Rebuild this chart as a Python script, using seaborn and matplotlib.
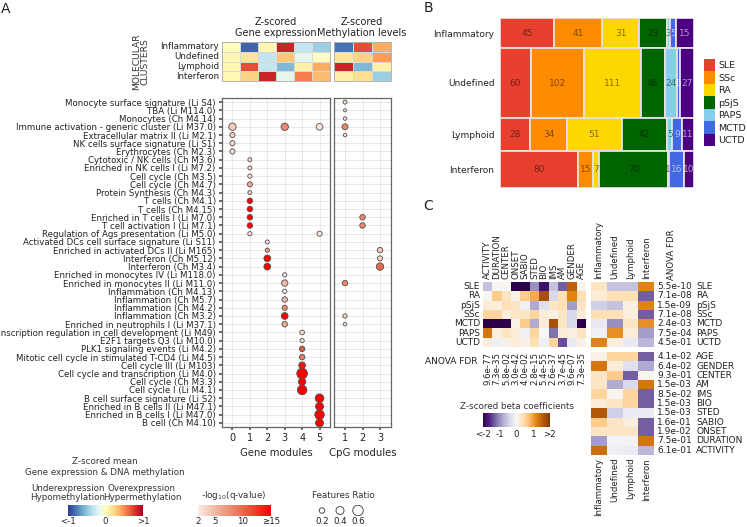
import numpy as np
import pandas as pd
import matplotlib
matplotlib.use("Agg")
import matplotlib.pyplot as plt
import seaborn as sns
from matplotlib.colors import LinearSegmentedColormap, Normalize
from matplotlib.cm import ScalarMappable
from matplotlib.patches import Patch

W, H = 747, 527

# ---------------- DATA : panel A ----------------
clusters = ["Inflammatory", "Undefined", "Lymphoid", "Interferon"]
gene_modules = [0, 1, 2, 3, 4, 5]
cpg_modules = [1, 2, 3]
gene_z = [[0.0, -0.85, 0.05, 0.85, -0.3, -0.45],
          [0.05, 0.15, -0.3, 0.3, -0.15, 0.0],
          [0.05, 0.7, -0.3, -0.55, 0.1, 0.4],
          [0.05, 0.25, 0.85, -0.15, 0.55, 0.35]]
meth_z = [[-0.8, 0.7, 0.4],
          [0.15, 0.25, 0.45],
          [0.85, -0.55, 0.1],
          [0.1, 0.2, -0.45]]

pathways = [
    "Monocyte surface signature (Li S4)", "TBA (Li M114.0)", "Monocytes (Ch M4.14)",
    "Immune activation - generic cluster (Li M37.0)", "Extracellular matrix II (Li M2.1)",
    "NK cells surface signature (Li S1)", "Erythrocytes (Ch M2.3)", "Cytotoxic / NK cells (Ch M3.6)",
    "Enriched in NK cells I (Li M7.2)", "Cell cycle (Ch M3.5)", "Cell cycle (Ch M4.7)",
    "Protein Synthesis (Ch M4.3)", "T cells (Ch M4.1)", "T cells (Ch M4.15)",
    "Enriched in T cells I (Li M7.0)", "T cell activation I (Li M7.1)",
    "Regulation of Ags presentation (Li M5.0)", "Activated DCs cell surface signature (Li S11)",
    "Enriched in activated DCs II (Li M165)", "Interferon (Ch M5.12)", "Interferon (Ch M3.4)",
    "Enriched in monocytes IV (Li M118.0)", "Enriched in monocytes II (Li M11.0)",
    "Inflammation (Ch M4.13)", "Inflammation (Ch M5.7)", "Inflammation (Ch M4.2)",
    "Inflammation (Ch M3.2)", "Enriched in neutrophils I (Li M37.1)",
    "Transcription regulation in cell development (Li M49)", "E2F1 targets Q3 (Li M10.0)",
    "PLK1 signaling events (Li M4.2)", "Mitotic cell cycle in stimulated T-CD4 (Li M4.5)",
    "Cell cycle III (Li M103)", "Cell cycle and transcription (Li M4.0)", "Cell cycle (Ch M3.3)",
    "Cell cycle I (Li M4.1)", "B cell surface signature (Li S2)", "Enriched in B cells II (Li M47.1)",
    "Enriched in B cells I (Li M47.0)", "B cell (Ch M4.10)"]

gene_dot_row = [3, 3, 3, 4, 5, 6, 7, 8, 9, 10, 11, 12, 13, 14, 15, 16, 16,
                17, 18, 19, 20, 21, 22, 23, 24, 25, 26, 27,
                28, 29, 30, 31, 32, 33, 34, 35, 36, 37, 38, 39]
gene_dot_mod = [0, 3, 5, 0, 0, 0, 1, 1, 1, 1, 1, 1, 1, 1, 1, 1, 5,
                2, 2, 2, 2, 3, 3, 3, 3, 3, 3, 3,
                4, 4, 4, 4, 4, 4, 4, 4, 5, 5, 5, 5]
gene_dot_ratio = [0.35, 0.35, 0.30, 0.17, 0.17, 0.17, 0.08, 0.08, 0.10, 0.17, 0.08, 0.20, 0.20, 0.20, 0.20, 0.10, 0.17,
                  0.08, 0.10, 0.30, 0.30, 0.10, 0.27, 0.10, 0.20, 0.17, 0.30, 0.20,
                  0.13, 0.10, 0.20, 0.20, 0.30, 0.62, 0.35, 0.52, 0.45, 0.40, 0.52, 0.40]
gene_dot_logq = [4, 8, 2.5, 3.5, 3, 3, 3, 3, 2.5, 6, 4, 15, 15, 15, 15, 2.5, 2.5,
                 2.5, 7, 15, 15, 2.2, 5, 2.2, 5, 8, 15, 6,
                 3, 3, 11, 9, 14, 15, 15, 15, 15, 15, 15, 15]

cpg_dot_row = [0, 1, 2, 3, 4, 14, 15, 18, 19, 20, 22, 26, 27]
cpg_dot_mod = [1, 1, 1, 1, 1, 2, 2, 3, 3, 3, 1, 1, 1]
cpg_dot_ratio = [0.08, 0.0, 0.04, 0.24, 0.04, 0.2, 0.2, 0.2, 0.17, 0.35, 0.2, 0.1, 0.04]
cpg_dot_logq = [3, 2, 3, 8, 2.5, 8, 8, 4, 3.5, 10, 8, 3.5, 2.5]

ratio_legend = [0.2, 0.4, 0.6]

# ---------------- DATA : panel B ----------------
b_clusters = ["Inflammatory", "Undefined", "Lymphoid", "Interferon"]
diseases = ["SLE", "SSc", "RA", "pSjS", "PAPS", "MCTD", "UCTD"]
disease_colors = ["#e8402f", "#ff8c00", "#ffd700", "#006400", "#87ceeb", "#4169e1", "#4b0082"]
counts_inflammatory = [45, 41, 31, 23, 3, 5, 15]
counts_undefined = [60, 102, 111, 46, 24, 6, 27]
counts_lymphoid = [28, 34, 51, 42, 5, 9, 11]
counts_interferon = [80, 15, 7, 70, 1, 16, 10]

# ---------------- DATA : panel C ----------------
clin_vars = ["ACTIVITY", "DURATION", "CENTER", "ONSET", "SABIO", "STED", "BIO", "IMS", "AM", "GENDER", "AGE"]
c_diseases = ["SLE", "RA", "pSjS", "SSc", "MCTD", "PAPS", "UCTD"]
clin_beta = [[-0.6, 0.05, 0.0, -2.0, -2.0, -1.0, -1.8, -0.6, -1.3, 1.5, 0.05],
             [0.05, 0.6, 0.3, 0.1, 0.6, 0.9, 1.7, -0.4, 0.4, 1.2, 0.4],
             [0.2, 0.15, 0.4, 0.3, -0.1, -0.8, -0.3, 0.3, 0.4, -0.9, 0.3],
             [0.5, 0.5, 0.15, 0.3, 0.3, 0.5, 0.2, 0.1, 0.3, -0.4, 0.2],
             [-2.0, -2.0, -2.0, 0.1, 0.6, -0.8, 0.2, 1.7, 0.3, -0.4, -2.0],
             [1.3, 0.15, 0.3, 0.2, -0.1, 0.5, 0.0, -1.2, 0.2, 0.15, 0.3],
             [0.15, -0.1, 0.1, 0.2, 0.1, 0.4, -0.1, 0.5, -1.4, -0.2, 0.1]]
clin_fdr = ["9.6e-77", "7.3e-35", "5.8e-02", "3.0e-42", "4.0e-02", "2.8e-15", "5.4e-55",
            "2.6e-37", "3.7e-45", "9.6e-07", "7.3e-35"]
disease_cluster_beta = [[0.3, -0.6, -0.6, 1.2],
                        [0.2, 0.4, 0.4, -1.3],
                        [-0.5, -0.6, 0.15, 1.2],
                        [0.4, 0.4, 0.15, -1.3],
                        [-0.2, -1.0, 0.3, 1.1],
                        [-0.1, 1.1, 0.2, -0.9],
                        [1.2, 0.15, -0.2, -0.7]]
disease_fdr = ["5.5e-10", "7.1e-08", "1.5e-09", "7.1e-08", "2.4e-03", "7.5e-04", "4.5e-01"]
var_rows = ["AGE", "GENDER", "CENTER", "AM", "IMS", "BIO", "STED", "SABIO", "ONSET", "DURATION", "ACTIVITY"]
var_cluster_beta = [[0.1, 0.5, 0.5, -1.3],
                    [1.3, 0.2, -0.3, -0.8],
                    [0.3, 0.6, -1.3, 0.05],
                    [0.3, -0.8, -0.4, 1.3],
                    [0.5, 0.05, 0.5, -1.3],
                    [0.2, 0.3, 0.5, -1.3],
                    [1.6, -0.5, -0.15, -0.15],
                    [0.6, 0.3, 0.15, -1.3],
                    [0.3, 0.3, 0.3, -1.3],
                    [-0.9, -0.05, -0.05, 1.3],
                    [1.4, -0.1, -0.15, -0.7]]
var_fdr = ["4.1e-02", "6.4e-02", "9.3e-01", "1.5e-03", "8.5e-02", "1.5e-03", "1.5e-03",
           "1.6e-01", "1.9e-02", "7.5e-01", "6.1e-01"]

# ---------------- STYLE ----------------
sns.set_theme(style="whitegrid")
plt.rcParams["font.family"] = ["DejaVu Sans"]
plt.rcParams["text.color"] = "#222222"
plt.rcParams["xtick.color"] = "#222222"
plt.rcParams["ytick.color"] = "#222222"

fig = plt.figure(figsize=(W / 100, H / 100), dpi=100)


def px_axes(x0, y0, x1, y1):
    return fig.add_axes([x0 / W, 1 - y1 / H, (x1 - x0) / W, (y1 - y0) / H])


def ratio_to_s(r):
    d_px = 3.0 + 12.5 * np.asarray(r, dtype=float)
    return (d_px * 0.72) ** 2


q_cmap = LinearSegmentedColormap.from_list("q", ["#fcebe5", "#efa288", "#e5603f", "#ff0000"])
q_norm = Normalize(2, 15)
edge = "#505050"

# ---------------- PANEL A : top heatmaps ----------------
ax_hg = px_axes(222, 42, 330, 81)
sns.heatmap(pd.DataFrame(gene_z, index=clusters, columns=gene_modules), cmap="RdYlBu_r", vmin=-1, vmax=1,
            cbar=False, ax=ax_hg, linewidths=0.4, linecolor="#d8d8d8", xticklabels=False, yticklabels=True)
ax_hg.set_xlabel("")
ax_hg.tick_params(axis="y", length=0, pad=2, labelsize=6.3)
plt.setp(ax_hg.get_yticklabels(), rotation=0)
ax_hm = px_axes(334, 42, 391, 81)
sns.heatmap(pd.DataFrame(meth_z, index=clusters, columns=cpg_modules), cmap="RdYlBu_r", vmin=-1, vmax=1,
            cbar=False, ax=ax_hm, linewidths=0.4, linecolor="#d8d8d8", xticklabels=False, yticklabels=False)
for a in (ax_hg, ax_hm):
    for s in a.spines.values():
        s.set_visible(True)
        s.set_color("#aaaaaa")
        s.set_linewidth(0.6)

fig.text(276 / W, 1 - 27.5 / H, "Z-scored\nGene expression", ha="center", va="center", fontsize=7, linespacing=1.15)
fig.text(362 / W, 1 - 27.5 / H, "Z-scored\nMethylation levels", ha="center", va="center", fontsize=7, linespacing=1.15)
fig.text(141 / W, 1 - 62 / H, "MOLECULAR\nCLUSTERS", ha="center", va="center", rotation=90, fontsize=6.6,
         linespacing=1.0, color="#333333")
fig.text(1 / W, 1 - 9 / H, "A", ha="left", va="center", fontsize=10)

# ---------------- PANEL A : dot plots ----------------
ax_g = px_axes(222, 98, 330, 427)
ax_c = px_axes(334, 98, 391, 427)
sns.scatterplot(x=gene_dot_mod, y=gene_dot_row, hue=gene_dot_logq, palette=q_cmap, hue_norm=(2, 15),
                s=ratio_to_s(gene_dot_ratio), edgecolor=edge, linewidth=0.6, legend=False, ax=ax_g, zorder=3)
sns.scatterplot(x=cpg_dot_mod, y=cpg_dot_row, hue=cpg_dot_logq, palette=q_cmap, hue_norm=(2, 15),
                s=ratio_to_s(cpg_dot_ratio), edgecolor=edge, linewidth=0.6, legend=False, ax=ax_c, zorder=3)
ax_g.set_xlim(-0.6, 5.6)
ax_c.set_xlim(0.37, 3.63)
for a in (ax_g, ax_c):
    a.set_ylim(39.5, -0.5)
    a.set_yticks(range(len(pathways)))
    a.grid(True, color="#e4e4e4", linewidth=0.6)
    for s in a.spines.values():
        s.set_visible(True)
        s.set_color("#666666")
        s.set_linewidth(0.9)
    a.tick_params(axis="x", labelsize=7, length=2, bottom=True, pad=2, color="#555555")
ax_g.set_xticks(gene_modules)
ax_c.set_xticks(cpg_modules)
ax_g.set_yticklabels(pathways, fontsize=6.2)
ax_g.tick_params(axis="y", length=2.5, left=True, pad=2, color="#555555")
ax_c.set_yticklabels([])
ax_c.tick_params(axis="y", length=0)
ax_g.set_xlabel("Gene modules", fontsize=7.3, labelpad=4)
ax_c.set_xlabel("CpG modules", fontsize=7.3, labelpad=4)

# ---------------- PANEL A : legends ----------------
fig.text(105 / W, 1 - 467 / H, "Z-scored mean\nGene expression & DNA methylation", ha="center", va="center",
         fontsize=6.3, linespacing=1.35, color="#333333")
fig.text(68 / W, 1 - 493 / H, "Underexpression\nHypomethylation", ha="center", va="center", fontsize=6.3,
         linespacing=1.1, color="#333333")
fig.text(142 / W, 1 - 493 / H, "Overexpression\nHypermethylation", ha="center", va="center", fontsize=6.3,
         linespacing=1.1, color="#333333")
cax1 = px_axes(68, 505, 143, 516)
cb1 = fig.colorbar(ScalarMappable(norm=Normalize(-1, 1), cmap="RdYlBu_r"), cax=cax1, orientation="horizontal",
                   ticks=[-1, 0, 1])
cb1.ax.set_xticklabels(["<-1", "0", ">1"])
cax2 = px_axes(198, 505, 271, 516)
cb2 = fig.colorbar(ScalarMappable(norm=q_norm, cmap=q_cmap), cax=cax2, orientation="horizontal",
                   ticks=[2, 5, 10, 15])
cb2.ax.set_xticklabels(["2", "5", "10", "≥15"])
fig.text(234 / W, 1 - 496 / H, "-log$_{10}$(q-value)", ha="center", va="center", fontsize=6.3, color="#333333")
for cb in (cb1, cb2):
    cb.outline.set_visible(False)
    cb.ax.tick_params(labelsize=6.2, length=0, pad=1)

ax_fr = px_axes(313, 505, 367, 516)
sns.scatterplot(x=[0, 1, 2], y=[0, 0, 0], s=ratio_to_s(ratio_legend), color="white", edgecolor=edge,
                linewidth=0.7, legend=False, ax=ax_fr)
ax_fr.set_xlim(-0.5, 2.5)
ax_fr.set_ylim(-1, 1)
ax_fr.set_xticks([0, 1, 2])
ax_fr.set_xticklabels([str(r) for r in ratio_legend])
ax_fr.set_yticks([])
ax_fr.grid(False)
ax_fr.set_facecolor("none")
for s in ax_fr.spines.values():
    s.set_visible(False)
ax_fr.tick_params(axis="x", labelsize=6.2, length=0, pad=1)
fig.text(343 / W, 1 - 496 / H, "Features Ratio", ha="center", va="center", fontsize=6.3, color="#333333")

# ---------------- PANEL B : mosaic ----------------
fig.text(428 / W, 1 - 8 / H, "B", ha="center", va="center", fontsize=10)
ax_b = px_axes(500, 18, 694, 188)
b_counts = np.array([counts_inflammatory, counts_undefined, counts_lymphoid, counts_interferon], dtype=float)
row_tot = b_counts.sum(axis=1)
row_h = row_tot / row_tot.sum()
row_top = np.concatenate([[0], np.cumsum(row_h)[:-1]])
row_ctr = row_top + row_h / 2
fracs = b_counts / row_tot[:, None]
lefts = np.cumsum(fracs, axis=1) - fracs
for j, d in enumerate(diseases):
    ax_b.barh(row_ctr, fracs[:, j], left=lefts[:, j], height=row_h, color=disease_colors[j],
              edgecolor="#e2e2e2", linewidth=1.3)
    for i in range(len(b_clusters)):
        if b_counts[i, j] > 0:
            light = d in ("MCTD", "UCTD")
            ax_b.text(lefts[i, j] + fracs[i, j] / 2, row_ctr[i], str(int(b_counts[i, j])), ha="center",
                      va="center", fontsize=6.5, color="white" if light else "black",
                      alpha=0.6 if light else 0.5)
ax_b.set_xlim(0, 1)
ax_b.set_ylim(1, 0)
ax_b.set_yticks(row_ctr)
ax_b.set_yticklabels(b_clusters, fontsize=6.5)
ax_b.set_xticks([])
ax_b.grid(False)
ax_b.tick_params(axis="y", length=0, pad=4)
for s in ax_b.spines.values():
    s.set_visible(False)
fig.legend(handles=[Patch(facecolor=c, edgecolor="none", label=d) for c, d in zip(disease_colors, diseases)],
           loc="upper left", bbox_to_anchor=(704 / W, 1 - 59 / H), frameon=False, fontsize=6.8,
           handlelength=1.15, handleheight=1.65, labelspacing=0.0, handletextpad=0.35, borderpad=0,
           borderaxespad=0)

# ---------------- PANEL C : heatmaps ----------------
fig.text(428 / W, 1 - 206 / H, "C", ha="center", va="center", fontsize=10)
ax_cl = px_axes(483, 282, 586, 347)
sns.heatmap(pd.DataFrame(clin_beta, index=c_diseases, columns=clin_vars), cmap="PuOr_r", vmin=-2, vmax=2,
            cbar=False, ax=ax_cl, xticklabels=True, yticklabels=True)
ax_cl.xaxis.tick_top()
ax_cl.set_xticklabels(clin_vars, rotation=90, fontsize=6.2)
ax_cl.set_yticklabels(c_diseases, rotation=0, fontsize=6.5)
ax_cl.tick_params(length=0, pad=2)
for j, t in enumerate(clin_fdr):
    ax_cl.text(j + 0.5, 7.55, t, rotation=90, ha="center", va="top", fontsize=6.2, clip_on=False)
ax_cl.text(-0.55, 8.55, "ANOVA FDR", ha="right", va="center", fontsize=6.5, clip_on=False)

ax_ct = px_axes(591, 282, 654, 347)
sns.heatmap(pd.DataFrame(disease_cluster_beta, index=c_diseases, columns=clusters), cmap="PuOr_r", vmin=-2,
            vmax=2, cbar=False, ax=ax_ct, xticklabels=True, yticklabels=False)
ax_ct.xaxis.tick_top()
ax_ct.set_xticklabels(clusters, rotation=90, fontsize=6.2)
ax_ct.tick_params(length=0, pad=2)
ax_ct.text(5.08, -0.2, "ANOVA FDR", rotation=90, ha="center", va="bottom", fontsize=6.2, clip_on=False)
for i, (f, d) in enumerate(zip(disease_fdr, c_diseases)):
    ax_ct.text(4.2, i + 0.5, f, ha="left", va="center", fontsize=6.5, clip_on=False)
    ax_ct.text(6.67, i + 0.5, d, ha="left", va="center", fontsize=6.5, clip_on=False)

ax_cb = px_axes(591, 352, 654, 455)
sns.heatmap(pd.DataFrame(var_cluster_beta, index=var_rows, columns=clusters), cmap="PuOr_r", vmin=-2,
            vmax=2, cbar=False, ax=ax_cb, xticklabels=True, yticklabels=False)
ax_cb.set_xticklabels(clusters, rotation=90, fontsize=6.2)
ax_cb.tick_params(length=0, pad=2)
for i, (f, d) in enumerate(zip(var_fdr, var_rows)):
    ax_cb.text(4.2, i + 0.5, f, ha="left", va="center", fontsize=6.5, clip_on=False)
    ax_cb.text(6.67, i + 0.5, d, ha="left", va="center", fontsize=6.5, clip_on=False)

cax3 = px_axes(483, 413, 550, 427)
cb3 = fig.colorbar(ScalarMappable(norm=Normalize(-2, 2), cmap="PuOr_r"), cax=cax3, orientation="horizontal",
                   ticks=[-2, -1, 0, 1, 2])
cb3.ax.set_xticklabels(["<-2", "-1", "0", "1", ">2"])
cb3.outline.set_visible(False)
cb3.ax.tick_params(labelsize=6.3, length=0, pad=2)
cb3.ax.set_title("Z-scored beta coefficients", fontsize=6.3, pad=3, color="#333333")

fig.savefig("out.png", dpi=100)
